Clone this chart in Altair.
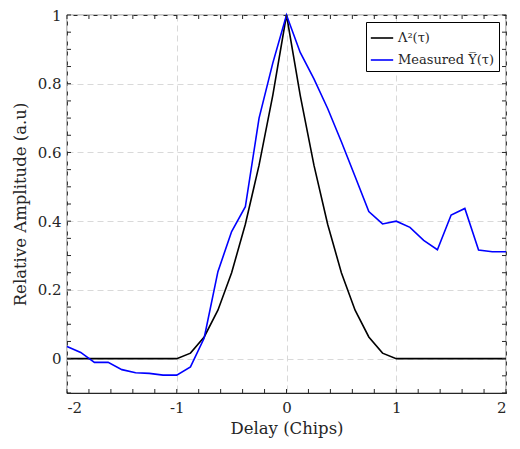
import altair as alt
import pandas as pd

delay = [-2.0, -1.875, -1.75, -1.625, -1.5, -1.375, -1.25, -1.125, -1.0, -0.875, -0.75, -0.625,
         -0.5, -0.375, -0.25, -0.125, 0.0, 0.125, 0.25, 0.375, 0.5, 0.625, 0.75, 0.875, 1.0,
         1.125, 1.25, 1.375, 1.5, 1.625, 1.75, 1.875, 2.0]
lambda_sq = [0, 0, 0, 0, 0, 0, 0, 0, 0, 0.016, 0.063, 0.141,
             0.25, 0.391, 0.563, 0.766, 1.0, 0.766, 0.563, 0.391, 0.25, 0.141, 0.063, 0.016, 0,
             0, 0, 0, 0, 0, 0, 0, 0]
measured = [0.035, 0.018, -0.011, -0.011, -0.032, -0.041, -0.043, -0.048, -0.048, -0.024, 0.06, 0.253,
            0.37, 0.442, 0.70, 0.86, 1.0, 0.891, 0.814, 0.728, 0.631, 0.53, 0.428, 0.392, 0.40,
            0.382, 0.344, 0.317, 0.418, 0.437, 0.316, 0.311, 0.311]

series_names = ["Λ²(τ)", "Measured Y̅(τ)"]
series_colors = ["#000000", "#0000ff"]

x_major = [-2, -1, 0, 1, 2]
y_major = [0, 0.2, 0.4, 0.6, 0.8, 1.0]
x_minor = [round(-2 + 0.2 * i, 2) for i in range(21)]
y_minor = [round(-0.1 + 0.05 * i, 2) for i in range(23)]

df = pd.concat([
    pd.DataFrame({"delay": delay, "value": lambda_sq, "series": series_names[0], "order": 0}),
    pd.DataFrame({"delay": delay, "value": measured, "series": series_names[1], "order": 1}),
])

FONT = "DejaVu Serif"
W, H = 439, 378
TL = 4
label_expr = "replace(format(datum.value, '~g'), '\u2212', '-')"

xscale = alt.Scale(domain=[-2, 2], nice=False, zero=False)
yscale = alt.Scale(domain=[-0.1, 1.0], nice=False, zero=False)

lines = alt.Chart(df).mark_line(strokeWidth=1.6).encode(
    x=alt.X("delay:Q", scale=xscale,
            axis=alt.Axis(title="Delay (Chips)", values=x_major, ticks=False, domain=False,
                          grid=True, gridDash=[6, 4], gridColor="#d9d9d9", gridWidth=1,
                          labelFont=FONT, labelFontSize=15, labelColor="#262626",
                          labelPadding=7, titleFont=FONT, titleFontSize=16.5,
                          titleFontWeight="normal", titleColor="#262626", titlePadding=5,
                          labelExpr=label_expr)),
    y=alt.Y("value:Q", scale=yscale,
            axis=alt.Axis(title="Relative Amplitude (a.u)", values=y_major, ticks=False, domain=False,
                          grid=True, gridDash=[6, 4], gridColor="#d9d9d9", gridWidth=1,
                          labelFont=FONT, labelFontSize=15, labelColor="#262626",
                          labelPadding=6, titleFont=FONT, titleFontSize=16.5,
                          titleFontWeight="normal", titleColor="#262626", titlePadding=9,
                          labelExpr=label_expr)),
    color=alt.Color("series:N", scale=alt.Scale(domain=series_names, range=series_colors),
                    legend=alt.Legend(title=None, orient="top-right", offset=7,
                                      strokeColor="#000000", fillColor="#ffffff",
                                      padding=4, rowPadding=3, symbolType="stroke",
                                      symbolStrokeWidth=1.6, symbolSize=500,
                                      labelFont=FONT, labelFontSize=13, labelColor="#262626")),
    order="order:Q",
    detail="series:N",
)

xt = pd.DataFrame({"t": x_minor})
yt = pd.DataFrame({"t": y_minor})

tick_style = dict(color="#262626", strokeWidth=1)
bottom_ticks = alt.Chart(xt).mark_rule(**tick_style).encode(
    x=alt.X("t:Q", scale=xscale), y=alt.value(H), y2=alt.value(H - TL))
top_ticks = alt.Chart(xt).mark_rule(**tick_style).encode(
    x=alt.X("t:Q", scale=xscale), y=alt.value(0), y2=alt.value(TL))
left_ticks = alt.Chart(yt).mark_rule(**tick_style).encode(
    y=alt.Y("t:Q", scale=yscale), x=alt.value(0), x2=alt.value(TL))
right_ticks = alt.Chart(yt).mark_rule(**tick_style).encode(
    y=alt.Y("t:Q", scale=yscale), x=alt.value(W), x2=alt.value(W - TL))

chart = alt.layer(lines, bottom_ticks, top_ticks, left_ticks, right_ticks).properties(
    width=W, height=H, background="#ffffff",
    padding={"top": 0, "left": 4, "right": 0, "bottom": 5},
).configure_view(stroke="#262626", strokeWidth=1.2)

chart.save("out.html", embed_options={"renderer": "svg", "actions": False})
